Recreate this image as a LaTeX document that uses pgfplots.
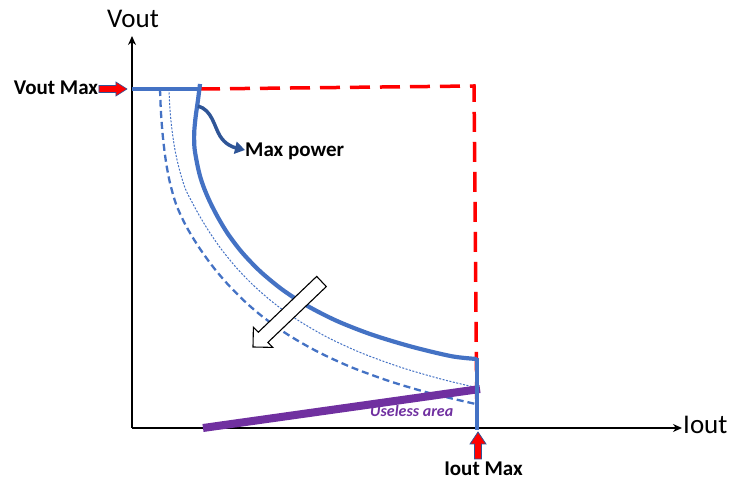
\documentclass[border=0pt]{standalone}
\usepackage{pgfplots}
\pgfplotsset{compat=1.18}
\usepackage{fontspec}
\setmainfont{Carlito}
\usetikzlibrary{arrows.meta}
\definecolor{cblue}{HTML}{4472C4}
\definecolor{dblue}{HTML}{2F5597}
\definecolor{cpurple}{HTML}{7030A0}
\definecolor{cred}{HTML}{FF0000}
\begin{document}
\begin{tikzpicture}
\begin{axis}[
  scale only axis, width=550pt, height=392pt,
  xmin=0, xmax=550, ymin=0, ymax=392,
  axis lines=left, xtick=\empty, ytick=\empty,
  axis line style={line width=2.6pt, -{Stealth[length=9pt,width=8pt]}},
  clip=false,
]
% frame for the page size
\path (-132,-58) rectangle (603,428);
% red limit
\addplot[cred, line width=3.5pt, dash pattern=on 20pt off 10pt] coordinates {(68,339) (342,342) (345,0)};
% Vout max segment
\addplot[cblue, line width=4pt] coordinates {(0,339) (68,339)};
% max power curve
\addplot[cblue, line width=4.2pt, smooth, tension=0.5] coordinates {
 (68,344) (66,328) (63.5,310) (62.2,295) (62.5,280) (65,265) (68,252)
 (72,240) (78,226) (86,210.5) (96,194) (110,175.6) (128,156.8)
 (150,138.6) (175,122.3) (205,107.0) (240,93.3) (280,81.2) (320,71.7) (345,69)};
% thin dotted curve
\addplot[cblue, line width=1pt, dash pattern=on 2pt off 1.5pt, smooth, tension=0.5] coordinates {
 (37,339) (38,318) (40,298) (43,278) (47,260) (53,240.1) (60,225.9) (68,211.3)
 (78,195.0) (90,177.9) (105,159.6) (122,142.1) (142,124.8) (165,108.4) (195,90.9)
 (230,74.8) (270,60.3) (310,48.7) (345,40.3)};
% dashed curve
\addplot[cblue, line width=2.3pt, dash pattern=on 7pt off 4pt, smooth, tension=0.5] coordinates {
 (28,339) (29,315) (31,290) (34,266) (38,245) (44,224) (52,206) (60,191.7)
 (70,176.2) (82,159.9) (96,143.5) (112,127.3) (130,111.8) (155,93.9) (185,76.6)
 (220,60.5) (260,46.0) (300,34.3) (345,23.7)};
% useless area line
\addplot[cpurple, line width=8pt] coordinates {(71,0) (348,39)};
% Iout max vertical blue
\addplot[cblue, line width=3.5pt] coordinates {(345,70) (345,-2)};
% hollow arrow
\draw[black, line width=1.1pt, fill=white, line join=miter]
 (184.7,151.6) -- (126.3,95.8) -- (121.4,100.8) -- (121,81) -- (140.8,80.6) -- (135.9,85.6) -- (194.3,141.4) -- cycle;
% max power arrow
\draw[dblue, line width=3.5pt, -{Triangle[length=10pt,width=12pt]}]
 (66,322) .. controls (80,318) and (82,302) .. (88,292) .. controls (93,284) and (100,281) .. (113,278);
% Vout max arrow
\draw[dblue, line width=0.6pt, fill=cred]
 (-33,335.5) -- (-16,335.5) -- (-16,332) -- (-5,339) -- (-16,346) -- (-16,342.5) -- (-33,342.5) -- cycle;
% Iout max arrow
\draw[dblue, line width=0.8pt, fill=cred]
 (342.5,-31) -- (342.5,-16) -- (338,-16) -- (346,-4) -- (354,-16) -- (349.5,-16) -- (349.5,-31) -- cycle;
% texts
\node[inner sep=0pt] at (1,409) {\fontsize{27}{30}\selectfont Vout};
\node[inner sep=0pt, anchor=west] at (551,3) {\fontsize{27}{30}\selectfont Iout};
\node[inner sep=0pt] at (-76,340) {\fontsize{21}{24}\selectfont\bfseries Vout Max};
\node[inner sep=0pt, anchor=base west] at (113,271) {\fontsize{21}{24}\selectfont\bfseries Max power};
\node[inner sep=0pt, anchor=base] at (351.5,-48) {\fontsize{21}{24}\selectfont\bfseries Iout Max};
\node[inner sep=0pt, anchor=base west, text=cpurple] at (238,11) {\fontsize{16}{19}\selectfont\bfseries\itshape Useless area};
\end{axis}
\end{tikzpicture}
\end{document}
